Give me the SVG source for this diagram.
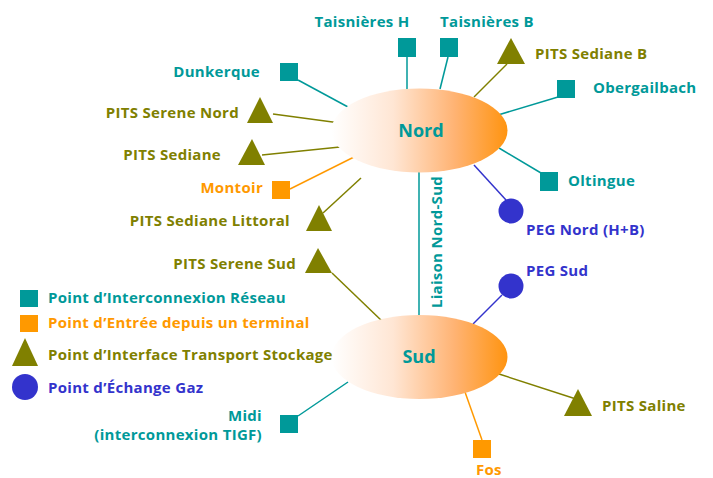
<svg xmlns="http://www.w3.org/2000/svg" width="713" height="478" viewBox="0 0 713 478">
<defs>
<linearGradient id="g" x1="0" y1="0" x2="1" y2="0">
<stop offset="0" stop-color="#ffffff"/>
<stop offset="0.35" stop-color="#ffe6d4"/>
<stop offset="0.7" stop-color="#ffb373"/>
<stop offset="1" stop-color="#ff9410"/>
</linearGradient>
<style>
text{font-family:"Open Sans","DejaVu Sans",sans-serif;font-weight:bold;font-size:15px;letter-spacing:0.3px}
.t{fill:#009999}.o{fill:#ff9900}.v{fill:#808000}.b{fill:#3333cc}
.lt{stroke:#009999;stroke-width:1.5}.lo{stroke:#ff9900;stroke-width:1.5}.lv{stroke:#808000;stroke-width:1.5}.lb{stroke:#3333cc;stroke-width:1.5}
.e{text-anchor:end}.m{text-anchor:middle}
.big{font-size:18px;letter-spacing:0}
</style>
</defs>
<rect width="713" height="478" fill="#ffffff"/>
<g id="connectors" fill="none">
<line class="lt" x1="419" y1="172" x2="419" y2="316"/>
<line class="lt" x1="407" y1="57" x2="407" y2="89"/>
<line class="lt" x1="448" y1="57" x2="440" y2="89"/>
<line class="lv" x1="507" y1="64" x2="474" y2="97"/>
<line class="lt" x1="558" y1="97" x2="498" y2="115"/>
<line class="lt" x1="541" y1="173" x2="499" y2="148"/>
<line class="lb" x1="506" y1="200" x2="474" y2="165"/>
<line class="lt" x1="298" y1="80" x2="348" y2="107"/>
<line class="lv" x1="273" y1="114" x2="340" y2="123"/>
<line class="lv" x1="262" y1="155" x2="340" y2="147"/>
<line class="lo" x1="290" y1="189" x2="356" y2="156"/>
<line class="lv" x1="323" y1="213" x2="361" y2="178"/>
<line class="lv" x1="332" y1="273" x2="383" y2="322"/>
<line class="lt" x1="298" y1="416" x2="348" y2="382"/>
<line class="lb" x1="502" y1="295" x2="473" y2="324"/>
<line class="lv" x1="576" y1="399" x2="499" y2="374"/>
<line class="lo" x1="482" y1="440" x2="465" y2="392"/>
</g>
<g id="nord">
<ellipse cx="419.5" cy="130.5" rx="88" ry="42" fill="url(#g)"/>
<text class="t m big" x="421" y="137">Nord</text>
</g>
<g id="sud">
<ellipse cx="419.5" cy="357" rx="88" ry="42" fill="url(#g)"/>
<text class="t m big" x="419" y="363">Sud</text>
</g>
<g id="liaison">
<text class="t m" transform="translate(442,242) rotate(-90)">Liaison Nord-Sud</text>
</g>
<g id="taisnieres-h">
<rect class="t" x="398" y="38" width="18" height="19"/>
<text class="t m" x="362" y="27">Taisnières H</text>
</g>
<g id="taisnieres-b">
<rect class="t" x="440" y="38" width="18" height="19"/>
<text class="t m" x="487" y="27">Taisnières B</text>
</g>
<g id="pits-sediane-b">
<polygon class="v" points="511,38 525,64 497,64"/>
<text class="v" x="535" y="59">PITS Sediane B</text>
</g>
<g id="obergailbach">
<rect class="t" x="557" y="80" width="18" height="18"/>
<text class="t" x="593" y="93">Obergailbach</text>
</g>
<g id="oltingue">
<rect class="t" x="540" y="172" width="18" height="19"/>
<text class="t" x="568" y="186">Oltingue</text>
</g>
<g id="peg-nord">
<circle class="b" cx="511" cy="211" r="12.5"/>
<text class="b" x="526" y="235">PEG Nord (H+B)</text>
</g>
<g id="dunkerque">
<rect class="t" x="280" y="63" width="18" height="18"/>
<text class="t e" x="260" y="77">Dunkerque</text>
</g>
<g id="pits-serene-nord">
<polygon class="v" points="260,97 273,123 247,123"/>
<text class="v e" x="239" y="118">PITS Serene Nord</text>
</g>
<g id="pits-sediane">
<polygon class="v" points="252,139 265,165 238,165"/>
<text class="v e" x="221" y="160">PITS Sediane</text>
</g>
<g id="montoir">
<rect class="o" x="272" y="181" width="18" height="18"/>
<text class="o e" x="263" y="193">Montoir</text>
</g>
<g id="pits-sediane-littoral">
<polygon class="v" points="319,205 332,231 306,231"/>
<text class="v e" x="290" y="226">PITS Sediane Littoral</text>
</g>
<g id="pits-serene-sud">
<polygon class="v" points="318,248 332,273 305,273"/>
<text class="v e" x="296" y="269">PITS Serene Sud</text>
</g>
<g id="midi">
<rect class="t" x="280" y="415" width="18" height="18"/>
<text class="t e" x="262" y="421">Midi</text>
<text class="t e" x="262" y="440">(interconnexion TIGF)</text>
</g>
<g id="peg-sud">
<circle class="b" cx="511" cy="286" r="12.5"/>
<text class="b" x="526" y="276">PEG Sud</text>
</g>
<g id="pits-saline">
<polygon class="v" points="578,389 592,416 564,416"/>
<text class="v" x="602" y="411">PITS Saline</text>
</g>
<g id="fos">
<rect class="o" x="473" y="440" width="18" height="18"/>
<text class="o" x="476" y="475">Fos</text>
</g>
<g id="legend">
<rect class="t" x="20" y="290" width="18" height="17"/>
<text class="t" x="48" y="303">Point d’Interconnexion Réseau</text>
<rect class="o" x="20" y="315" width="18" height="17"/>
<text class="o" x="48" y="328">Point d’Entrée depuis un terminal</text>
<polygon class="v" points="25,338 38,366 12,366"/>
<text class="v" x="48" y="360">Point d’Interface Transport Stockage</text>
<circle class="b" cx="25" cy="387" r="13"/>
<text class="b" x="48" y="393">Point d’Échange Gaz</text>
</g>
</svg>
